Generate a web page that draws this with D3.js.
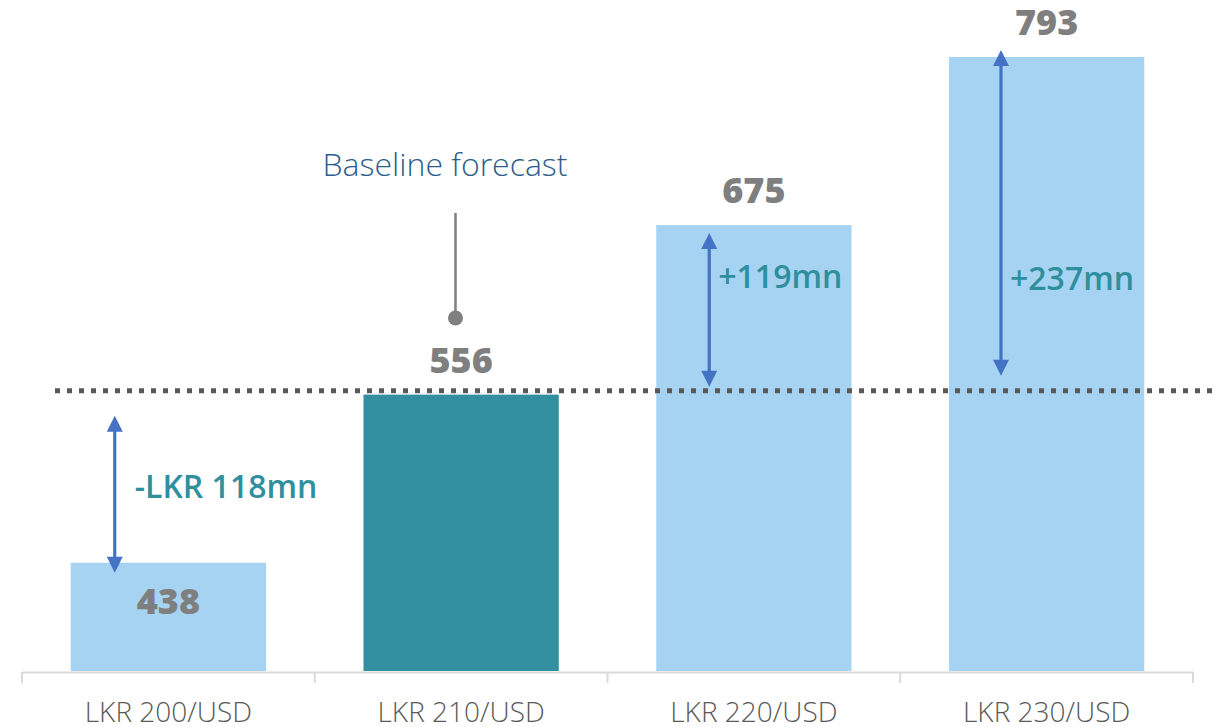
<!DOCTYPE html>
<html>
<head>
<meta charset="utf-8">
<script src="https://cdn.jsdelivr.net/npm/d3@7"></script>
<style>
  html, body { margin: 0; padding: 0; background: #ffffff; }
  svg { display: block; font-family: "Open Sans", "Noto Sans", sans-serif; }
</style>
</head>
<body>
<svg id="chart" width="1222" height="727"></svg>
<script>
// Exchange-rate scenarios and the resulting values (LKR mn)
const categories = ["LKR 200/USD", "LKR 210/USD", "LKR 220/USD", "LKR 230/USD"];
const values = [438, 556, 675, 793];
const changeLabels = ["-LKR 118mn", null, "+119mn", "+237mn"];
const baselineIndex = 1;
const baselineLabel = "Baseline forecast";

const svg = d3.select("#chart");

const x = d3.scaleBand()
  .domain(categories)
  .range([22, 1193])
  .paddingInner(0.333)
  .paddingOuter(0.1665);

const y = d3.scaleLinear()
  .domain([362, 793])
  .range([671, 57]);

const colors = { light: "#A6D3F2", base: "#318FA0", arrow: "#4472C4",
                 change: "#2F8F9D", value: "#7F7F7F", axis: "#D9D9D9" };

// Bars
svg.append("g").selectAll("rect")
  .data(values)
  .join("rect")
  .attr("x", (d, i) => x(categories[i]))
  .attr("y", d => y(d))
  .attr("width", x.bandwidth())
  .attr("height", d => y.range()[0] - y(d))
  .attr("fill", (d, i) => i === baselineIndex ? colors.base : colors.light);

// Horizontal dotted reference line at the baseline value
const refY = y(values[baselineIndex]) - 4;
svg.append("line")
  .attr("x1", 55).attr("x2", 1213)
  .attr("y1", refY).attr("y2", refY)
  .attr("stroke", "#595959")
  .attr("stroke-width", 5)
  .attr("stroke-dasharray", "5,7");

// X axis
const axisY = 672;
const axis = svg.append("g")
  .attr("transform", `translate(0,${axisY})`)
  .call(d3.axisBottom(x).tickSize(0).tickPadding(0));
axis.select(".domain").attr("stroke", colors.axis).attr("stroke-width", 2);
axis.selectAll(".tick text")
  .attr("y", 50).attr("dy", null)
  .attr("font-size", 28)
  .attr("font-weight", 300)
  .attr("font-family", "'Open Sans', sans-serif")
  .attr("fill", "#595959");

// Separators at band boundaries
const bounds = d3.range(categories.length + 1).map(i => x.range()[0] + i * x.step());
svg.append("g").selectAll("line")
  .data(bounds)
  .join("line")
  .attr("x1", d => d).attr("x2", d => d)
  .attr("y1", axisY).attr("y2", axisY + 11)
  .attr("stroke", colors.axis).attr("stroke-width", 2);

// Value labels: inside the shortest bar, above the others
svg.append("g").selectAll("text")
  .data(values)
  .join("text")
  .attr("x", (d, i) => x(categories[i]) + x.bandwidth() / 2)
  .attr("y", (d, i) => i === 0 ? y(d) + 51 : y(d) - 22)
  .attr("text-anchor", "middle")
  .attr("font-size", 36)
  .attr("font-weight", 800)
  .attr("fill", colors.value)
  .text(d => d);

// Double-headed arrows showing the change against the baseline
const arrowSpecs = [
  { i: 0, dx: 44, top: y(values[baselineIndex]) + 21, bottom: y(values[0]) + 10, ty: 498 },
  { i: 2, dx: 53, top: y(values[2]) + 8, bottom: refY - 4, ty: 288 },
  { i: 3, dx: 52, top: y(values[3]) - 7, bottom: refY - 15, ty: 290 }
];
const head = 16;
const arrows = svg.append("g");
arrowSpecs.forEach(a => {
  const ax = x(categories[a.i]) + a.dx;
  arrows.append("line")
    .attr("x1", ax).attr("x2", ax)
    .attr("y1", a.top + head - 2).attr("y2", a.bottom - head + 2)
    .attr("stroke", colors.arrow).attr("stroke-width", 3.2);
  arrows.append("path")
    .attr("d", `M${ax},${a.top}L${ax - head / 2},${a.top + head}L${ax + head / 2},${a.top + head}Z`)
    .attr("fill", colors.arrow);
  arrows.append("path")
    .attr("d", `M${ax},${a.bottom}L${ax - head / 2},${a.bottom - head}L${ax + head / 2},${a.bottom - head}Z`)
    .attr("fill", colors.arrow);
  arrows.append("text")
    .attr("x", ax + (a.i === 0 ? 20 : 9))
    .attr("y", a.ty)
    .attr("font-size", 32)
    .attr("font-weight", 600)
    .attr("fill", colors.change)
    .text(changeLabels[a.i]);
});

// Baseline callout
const cx = x(categories[baselineIndex]) + 92;
svg.append("line")
  .attr("x1", cx).attr("x2", cx)
  .attr("y1", 213).attr("y2", 318)
  .attr("stroke", "#7F7F7F").attr("stroke-width", 2.5);
svg.append("circle")
  .attr("cx", cx).attr("cy", 318).attr("r", 7.5)
  .attr("fill", "#7F7F7F");
svg.append("text")
  .attr("x", 445).attr("y", 176)
  .attr("text-anchor", "middle")
  .attr("font-size", 32)
  .attr("font-weight", 300)
  .attr("fill", "#2E5D8C")
  .text(baselineLabel);
</script>
</body>
</html>
